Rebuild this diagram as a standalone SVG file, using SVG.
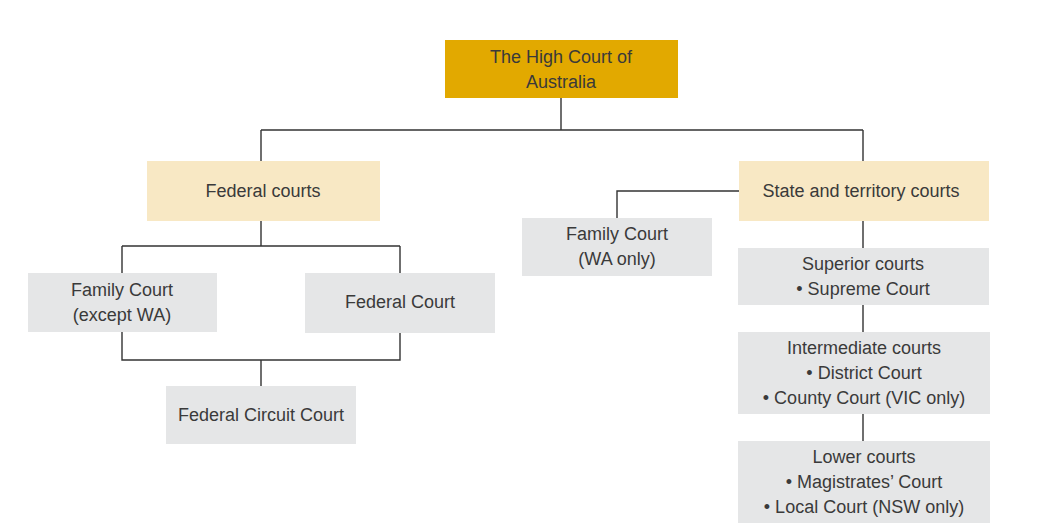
<svg xmlns="http://www.w3.org/2000/svg" width="1062" height="527" viewBox="0 0 1062 527">
<style>
text{font-family:"Liberation Sans",Arial,sans-serif;font-size:18px;fill:#3a3a3a;text-anchor:middle}
.g{fill:#e5e6e7}.y{fill:#f8e8c4}.h{fill:#e2a900}
#conn path{fill:none;stroke:#333;stroke-width:1.4}
</style>
<rect width="1062" height="527" fill="#fff"/>
<g id="conn">
<path d="M561,98V130M261,130H863M261,130V161M863,130V161"/>
<path d="M739,191H617V218"/>
<path d="M261,221V246M122,246H400M122,246V273M400,246V273"/>
<path d="M122,332V360H400V333M261,360V386"/>
<path d="M863,221V248M863,305V332M863,414V441"/>
</g>
<g id="high"><rect class="h" x="445" y="40" width="233" height="58"/><text x="561" y="63">The High Court of</text><text x="561" y="88">Australia</text></g>
<g id="federal"><rect class="y" x="147" y="161" width="233" height="60"/><text x="263" y="197">Federal courts</text></g>
<g id="state"><rect class="y" x="739" y="161" width="250" height="60"/><text x="861" y="197">State and territory courts</text></g>
<g id="familywa"><rect class="g" x="522" y="218" width="190" height="58"/><text x="617" y="240">Family Court</text><text x="617" y="265">(WA only)</text></g>
<g id="familyex"><rect class="g" x="28" y="273" width="189" height="59"/><text x="122" y="296">Family Court</text><text x="122" y="321">(except WA)</text></g>
<g id="fedcourt"><rect class="g" x="305" y="273" width="190" height="60"/><text x="400" y="308">Federal Court</text></g>
<g id="circuit"><rect class="g" x="166" y="386" width="190" height="58"/><text x="261" y="421">Federal Circuit Court</text></g>
<g id="superior"><rect class="g" x="738" y="248" width="251" height="57"/><text x="863" y="270">Superior courts</text><text x="863" y="295">• Supreme Court</text></g>
<g id="intermediate"><rect class="g" x="738" y="332" width="252" height="82"/><text x="864" y="354">Intermediate courts</text><text x="864" y="379">• District Court</text><text x="864" y="404">• County Court (VIC only)</text></g>
<g id="lower"><rect class="g" x="738" y="441" width="252" height="82"/><text x="864" y="463">Lower courts</text><text x="864" y="488">• Magistrates’ Court</text><text x="864" y="513">• Local Court (NSW only)</text></g>
</svg>
